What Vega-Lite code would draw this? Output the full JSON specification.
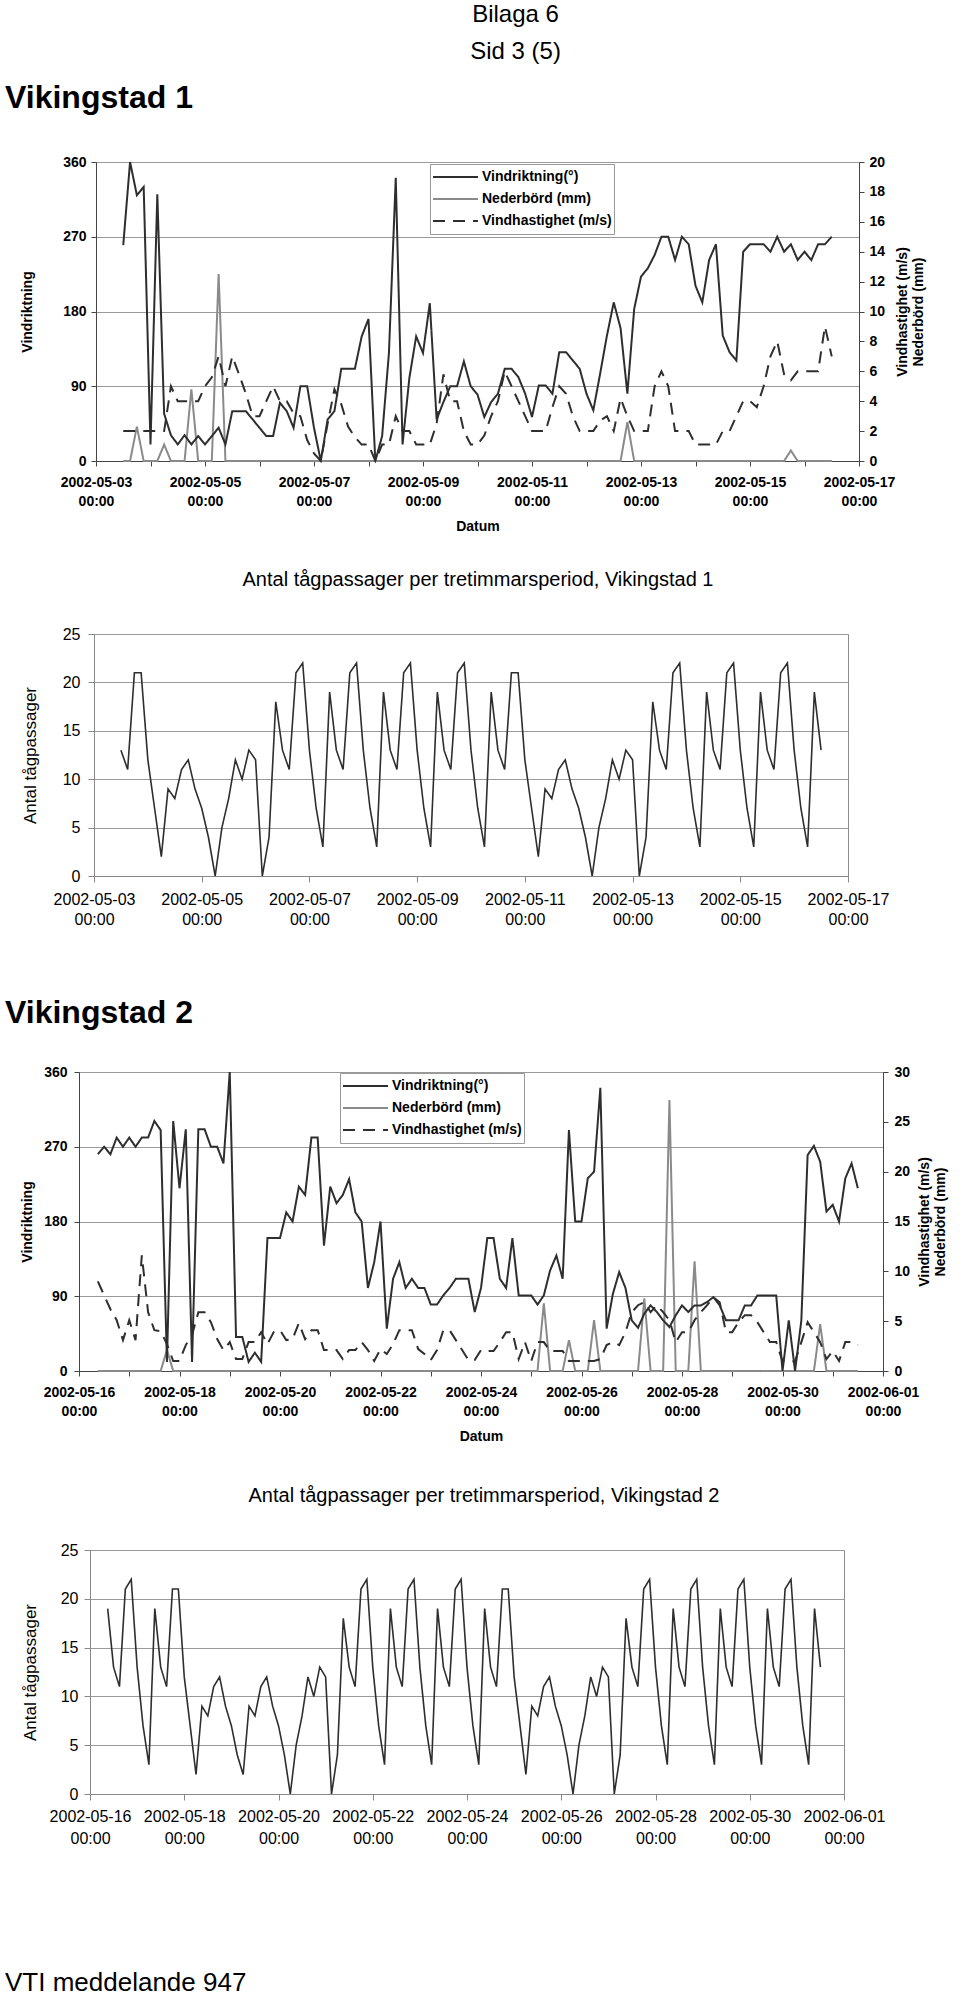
{
"$schema":"https://vega.github.io/schema/vega-lite/v6.json",
"padding":{"left":5,"top":2,"right":5,"bottom":2},
"title":{"text":"Bilaga 6","subtitle":"Sid 3 (5)","fontSize":24,"fontWeight":"normal","subtitleFontSize":24,"subtitleColor":"#000","subtitleFont":"Liberation Sans","subtitlePadding":13,"anchor":"middle","dx":39,"offset":18},
"datasets":{
"v1":[
{"t":"2002-05-03T12:00","dir":260,"rain":0,"speed":2,"train":13},
{"t":"2002-05-03T15:00","dir":360,"rain":0,"speed":2,"train":11},
{"t":"2002-05-03T18:00","dir":320,"rain":2.3,"speed":2,"train":21},
{"t":"2002-05-03T21:00","dir":330,"rain":0,"speed":2,"train":21},
{"t":"2002-05-04T00:00","dir":20,"rain":0,"speed":2,"train":12},
{"t":"2002-05-04T03:00","dir":321,"rain":0,"speed":2,"train":7},
{"t":"2002-05-04T06:00","dir":57,"rain":1.1,"speed":2,"train":2},
{"t":"2002-05-04T09:00","dir":31,"rain":0,"speed":5,"train":9},
{"t":"2002-05-04T12:00","dir":20,"rain":0,"speed":4,"train":8},
{"t":"2002-05-04T15:00","dir":31,"rain":0,"speed":4,"train":11},
{"t":"2002-05-04T18:00","dir":20,"rain":4.8,"speed":4,"train":12},
{"t":"2002-05-04T21:00","dir":30,"rain":0,"speed":4,"train":9},
{"t":"2002-05-05T00:00","dir":20,"rain":0,"speed":5,"train":7},
{"t":"2002-05-05T03:00","dir":30,"rain":0,"speed":5.6,"train":4},
{"t":"2002-05-05T06:00","dir":40,"rain":12.5,"speed":7,"train":0},
{"t":"2002-05-05T09:00","dir":20,"rain":0,"speed":5,"train":5},
{"t":"2002-05-05T12:00","dir":60,"rain":0,"speed":7,"train":8},
{"t":"2002-05-05T15:00","dir":60,"rain":0,"speed":5.8,"train":12},
{"t":"2002-05-05T18:00","dir":60,"rain":0,"speed":4.5,"train":10},
{"t":"2002-05-05T21:00","dir":50,"rain":0,"speed":3,"train":13},
{"t":"2002-05-06T00:00","dir":40,"rain":0,"speed":3,"train":12},
{"t":"2002-05-06T03:00","dir":30,"rain":0,"speed":4,"train":0},
{"t":"2002-05-06T06:00","dir":30,"rain":0,"speed":5,"train":4},
{"t":"2002-05-06T09:00","dir":70,"rain":0,"speed":4,"train":18},
{"t":"2002-05-06T12:00","dir":60,"rain":0,"speed":4,"train":13},
{"t":"2002-05-06T15:00","dir":40,"rain":0,"speed":3.2,"train":11},
{"t":"2002-05-06T18:00","dir":90,"rain":0,"speed":3,"train":21},
{"t":"2002-05-06T21:00","dir":90,"rain":0,"speed":1.4,"train":22},
{"t":"2002-05-07T00:00","dir":40,"rain":0,"speed":0.5,"train":13},
{"t":"2002-05-07T03:00","dir":0,"rain":0,"speed":0,"train":7},
{"t":"2002-05-07T06:00","dir":50,"rain":0,"speed":2.5,"train":3},
{"t":"2002-05-07T09:00","dir":60,"rain":0,"speed":4.8,"train":19},
{"t":"2002-05-07T12:00","dir":111,"rain":0,"speed":3.8,"train":13},
{"t":"2002-05-07T15:00","dir":111,"rain":0,"speed":2.3,"train":11},
{"t":"2002-05-07T18:00","dir":111,"rain":0,"speed":1.6,"train":21},
{"t":"2002-05-07T21:00","dir":150,"rain":0,"speed":1.1,"train":22},
{"t":"2002-05-08T00:00","dir":171,"rain":0,"speed":1.1,"train":13},
{"t":"2002-05-08T03:00","dir":0,"rain":0,"speed":0,"train":7},
{"t":"2002-05-08T06:00","dir":30,"rain":0,"speed":1.1,"train":3},
{"t":"2002-05-08T09:00","dir":130,"rain":0,"speed":1.1,"train":19},
{"t":"2002-05-08T12:00","dir":341,"rain":0,"speed":3,"train":13},
{"t":"2002-05-08T15:00","dir":20,"rain":0,"speed":2,"train":11},
{"t":"2002-05-08T18:00","dir":100,"rain":0,"speed":2,"train":21},
{"t":"2002-05-08T21:00","dir":150,"rain":0,"speed":1.1,"train":22},
{"t":"2002-05-09T00:00","dir":130,"rain":0,"speed":1.1,"train":13},
{"t":"2002-05-09T03:00","dir":190,"rain":0,"speed":1.1,"train":7},
{"t":"2002-05-09T06:00","dir":50,"rain":0,"speed":2.5,"train":3},
{"t":"2002-05-09T09:00","dir":71,"rain":0,"speed":5.8,"train":19},
{"t":"2002-05-09T12:00","dir":90,"rain":0,"speed":4,"train":13},
{"t":"2002-05-09T15:00","dir":90,"rain":0,"speed":4,"train":11},
{"t":"2002-05-09T18:00","dir":120,"rain":0,"speed":2,"train":21},
{"t":"2002-05-09T21:00","dir":90,"rain":0,"speed":1.1,"train":22},
{"t":"2002-05-10T00:00","dir":80,"rain":0,"speed":1.1,"train":13},
{"t":"2002-05-10T03:00","dir":53,"rain":0,"speed":1.7,"train":7},
{"t":"2002-05-10T06:00","dir":71,"rain":0,"speed":3,"train":3},
{"t":"2002-05-10T09:00","dir":81,"rain":0,"speed":4,"train":19},
{"t":"2002-05-10T12:00","dir":111,"rain":0,"speed":6,"train":13},
{"t":"2002-05-10T15:00","dir":111,"rain":0,"speed":5,"train":11},
{"t":"2002-05-10T18:00","dir":101,"rain":0,"speed":4,"train":21},
{"t":"2002-05-10T21:00","dir":81,"rain":0,"speed":3,"train":21},
{"t":"2002-05-11T00:00","dir":53,"rain":0,"speed":2,"train":12},
{"t":"2002-05-11T03:00","dir":91,"rain":0,"speed":2,"train":7},
{"t":"2002-05-11T06:00","dir":91,"rain":0,"speed":2,"train":2},
{"t":"2002-05-11T09:00","dir":81,"rain":0,"speed":3.6,"train":9},
{"t":"2002-05-11T12:00","dir":131,"rain":0,"speed":5,"train":8},
{"t":"2002-05-11T15:00","dir":131,"rain":0,"speed":4.5,"train":11},
{"t":"2002-05-11T18:00","dir":121,"rain":0,"speed":3,"train":12},
{"t":"2002-05-11T21:00","dir":111,"rain":0,"speed":2,"train":9},
{"t":"2002-05-12T00:00","dir":81,"rain":0,"speed":2,"train":7},
{"t":"2002-05-12T03:00","dir":61,"rain":0,"speed":2,"train":4},
{"t":"2002-05-12T06:00","dir":105,"rain":0,"speed":2.7,"train":0},
{"t":"2002-05-12T09:00","dir":151,"rain":0,"speed":3,"train":5},
{"t":"2002-05-12T12:00","dir":191,"rain":0,"speed":2,"train":8},
{"t":"2002-05-12T15:00","dir":160,"rain":0,"speed":4.2,"train":12},
{"t":"2002-05-12T18:00","dir":81,"rain":2.6,"speed":3,"train":10},
{"t":"2002-05-12T21:00","dir":183,"rain":0,"speed":2,"train":13},
{"t":"2002-05-13T00:00","dir":222,"rain":0,"speed":2,"train":12},
{"t":"2002-05-13T03:00","dir":232,"rain":0,"speed":2,"train":0},
{"t":"2002-05-13T06:00","dir":248,"rain":0,"speed":5,"train":4},
{"t":"2002-05-13T09:00","dir":270,"rain":0,"speed":6,"train":18},
{"t":"2002-05-13T12:00","dir":270,"rain":0,"speed":5,"train":13},
{"t":"2002-05-13T15:00","dir":242,"rain":0,"speed":2,"train":11},
{"t":"2002-05-13T18:00","dir":270,"rain":0,"speed":2,"train":21},
{"t":"2002-05-13T21:00","dir":261,"rain":0,"speed":2,"train":22},
{"t":"2002-05-14T00:00","dir":211,"rain":0,"speed":1.1,"train":13},
{"t":"2002-05-14T03:00","dir":191,"rain":0,"speed":1.1,"train":7},
{"t":"2002-05-14T06:00","dir":242,"rain":0,"speed":1.1,"train":3},
{"t":"2002-05-14T09:00","dir":261,"rain":0,"speed":1.1,"train":19},
{"t":"2002-05-14T12:00","dir":151,"rain":0,"speed":2,"train":13},
{"t":"2002-05-14T15:00","dir":131,"rain":0,"speed":2,"train":11},
{"t":"2002-05-14T18:00","dir":121,"rain":0,"speed":3,"train":21},
{"t":"2002-05-14T21:00","dir":252,"rain":0,"speed":4,"train":22},
{"t":"2002-05-15T00:00","dir":261,"rain":0,"speed":4,"train":13},
{"t":"2002-05-15T03:00","dir":261,"rain":0,"speed":3.6,"train":7},
{"t":"2002-05-15T06:00","dir":261,"rain":0,"speed":5,"train":3},
{"t":"2002-05-15T09:00","dir":252,"rain":0,"speed":7,"train":19},
{"t":"2002-05-15T12:00","dir":270,"rain":0,"speed":8,"train":13},
{"t":"2002-05-15T15:00","dir":252,"rain":0,"speed":5.8,"train":11},
{"t":"2002-05-15T18:00","dir":261,"rain":0.7,"speed":5.4,"train":21},
{"t":"2002-05-15T21:00","dir":242,"rain":0,"speed":6,"train":22},
{"t":"2002-05-16T00:00","dir":252,"rain":0,"speed":6,"train":13},
{"t":"2002-05-16T03:00","dir":242,"rain":0,"speed":6,"train":7},
{"t":"2002-05-16T06:00","dir":261,"rain":0,"speed":6,"train":3},
{"t":"2002-05-16T09:00","dir":261,"rain":0,"speed":9,"train":19},
{"t":"2002-05-16T12:00","dir":270,"rain":0,"speed":7,"train":13}
],
"v2":[
{"t":"2002-05-16T09:00","dir":261,"rain":0,"speed":9.0,"train":19},
{"t":"2002-05-16T12:00","dir":270,"rain":0,"speed":7.6,"train":13},
{"t":"2002-05-16T15:00","dir":261,"rain":0,"speed":6.2,"train":11},
{"t":"2002-05-16T18:00","dir":281,"rain":0,"speed":5.1,"train":21},
{"t":"2002-05-16T21:00","dir":270,"rain":0,"speed":3.1,"train":22},
{"t":"2002-05-17T00:00","dir":281,"rain":0,"speed":5.1,"train":13},
{"t":"2002-05-17T03:00","dir":270,"rain":0,"speed":3.1,"train":7},
{"t":"2002-05-17T06:00","dir":281,"rain":0,"speed":11.6,"train":3},
{"t":"2002-05-17T09:00","dir":281,"rain":0,"speed":5.9,"train":19},
{"t":"2002-05-17T12:00","dir":301,"rain":0,"speed":4.1,"train":13},
{"t":"2002-05-17T15:00","dir":290,"rain":0,"speed":4.0,"train":11},
{"t":"2002-05-17T18:00","dir":11,"rain":2.1,"speed":2.7,"train":21},
{"t":"2002-05-17T21:00","dir":301,"rain":0,"speed":1.0,"train":21},
{"t":"2002-05-18T00:00","dir":220,"rain":0,"speed":1.0,"train":12},
{"t":"2002-05-18T03:00","dir":291,"rain":0,"speed":2.6,"train":7},
{"t":"2002-05-18T06:00","dir":11,"rain":0,"speed":3.6,"train":2},
{"t":"2002-05-18T09:00","dir":291,"rain":0,"speed":5.9,"train":9},
{"t":"2002-05-18T12:00","dir":291,"rain":0,"speed":5.9,"train":8},
{"t":"2002-05-18T15:00","dir":270,"rain":0,"speed":4.9,"train":11},
{"t":"2002-05-18T18:00","dir":270,"rain":0,"speed":3.2,"train":12},
{"t":"2002-05-18T21:00","dir":250,"rain":0,"speed":2.1,"train":9},
{"t":"2002-05-19T00:00","dir":360,"rain":0,"speed":2.9,"train":7},
{"t":"2002-05-19T03:00","dir":41,"rain":0,"speed":1.2,"train":4},
{"t":"2002-05-19T06:00","dir":41,"rain":0,"speed":1.2,"train":2},
{"t":"2002-05-19T09:00","dir":11,"rain":0,"speed":2.9,"train":9},
{"t":"2002-05-19T12:00","dir":22,"rain":0,"speed":2.9,"train":8},
{"t":"2002-05-19T15:00","dir":11,"rain":0,"speed":3.9,"train":11},
{"t":"2002-05-19T18:00","dir":160,"rain":0,"speed":2.7,"train":12},
{"t":"2002-05-19T21:00","dir":160,"rain":0,"speed":3.9,"train":9},
{"t":"2002-05-20T00:00","dir":160,"rain":0,"speed":4.1,"train":7},
{"t":"2002-05-20T03:00","dir":191,"rain":0,"speed":3.1,"train":4},
{"t":"2002-05-20T06:00","dir":180,"rain":0,"speed":3.2,"train":0},
{"t":"2002-05-20T09:00","dir":222,"rain":0,"speed":4.8,"train":5},
{"t":"2002-05-20T12:00","dir":212,"rain":0,"speed":3.2,"train":8},
{"t":"2002-05-20T15:00","dir":281,"rain":0,"speed":4.1,"train":12},
{"t":"2002-05-20T18:00","dir":281,"rain":0,"speed":4.1,"train":10},
{"t":"2002-05-20T21:00","dir":151,"rain":0,"speed":2.1,"train":13},
{"t":"2002-05-21T00:00","dir":222,"rain":0,"speed":2.1,"train":12},
{"t":"2002-05-21T03:00","dir":202,"rain":0,"speed":2.1,"train":0},
{"t":"2002-05-21T06:00","dir":212,"rain":0,"speed":1.2,"train":4},
{"t":"2002-05-21T09:00","dir":231,"rain":0,"speed":2.1,"train":18},
{"t":"2002-05-21T12:00","dir":191,"rain":0,"speed":2.1,"train":13},
{"t":"2002-05-21T15:00","dir":180,"rain":0,"speed":2.9,"train":11},
{"t":"2002-05-21T18:00","dir":100,"rain":0,"speed":2.1,"train":21},
{"t":"2002-05-21T21:00","dir":131,"rain":0,"speed":1.0,"train":22},
{"t":"2002-05-22T00:00","dir":180,"rain":0,"speed":2.2,"train":13},
{"t":"2002-05-22T03:00","dir":51,"rain":0,"speed":1.7,"train":7},
{"t":"2002-05-22T06:00","dir":111,"rain":0,"speed":2.7,"train":3},
{"t":"2002-05-22T09:00","dir":131,"rain":0,"speed":4.1,"train":19},
{"t":"2002-05-22T12:00","dir":100,"rain":0,"speed":4.1,"train":13},
{"t":"2002-05-22T15:00","dir":111,"rain":0,"speed":4.1,"train":11},
{"t":"2002-05-22T18:00","dir":100,"rain":0,"speed":2.2,"train":21},
{"t":"2002-05-22T21:00","dir":100,"rain":0,"speed":1.7,"train":22},
{"t":"2002-05-23T00:00","dir":80,"rain":0,"speed":1.1,"train":13},
{"t":"2002-05-23T03:00","dir":80,"rain":0,"speed":2.1,"train":7},
{"t":"2002-05-23T06:00","dir":91,"rain":0,"speed":4.1,"train":3},
{"t":"2002-05-23T09:00","dir":100,"rain":0,"speed":4.1,"train":19},
{"t":"2002-05-23T12:00","dir":111,"rain":0,"speed":3.1,"train":13},
{"t":"2002-05-23T15:00","dir":111,"rain":0,"speed":2.1,"train":11},
{"t":"2002-05-23T18:00","dir":111,"rain":0,"speed":1.1,"train":21},
{"t":"2002-05-23T21:00","dir":71,"rain":0,"speed":1.1,"train":22},
{"t":"2002-05-24T00:00","dir":100,"rain":0,"speed":2.1,"train":13},
{"t":"2002-05-24T03:00","dir":160,"rain":0,"speed":2.0,"train":7},
{"t":"2002-05-24T06:00","dir":160,"rain":0,"speed":2.0,"train":3},
{"t":"2002-05-24T09:00","dir":111,"rain":0,"speed":2.9,"train":19},
{"t":"2002-05-24T12:00","dir":100,"rain":0,"speed":3.9,"train":13},
{"t":"2002-05-24T15:00","dir":160,"rain":0,"speed":3.9,"train":11},
{"t":"2002-05-24T18:00","dir":91,"rain":0,"speed":1.2,"train":21},
{"t":"2002-05-24T21:00","dir":91,"rain":0,"speed":2.9,"train":21},
{"t":"2002-05-25T00:00","dir":91,"rain":0,"speed":1.0,"train":12},
{"t":"2002-05-25T03:00","dir":80,"rain":0,"speed":2.9,"train":7},
{"t":"2002-05-25T06:00","dir":91,"rain":6.8,"speed":2.9,"train":2},
{"t":"2002-05-25T09:00","dir":121,"rain":0,"speed":2.0,"train":9},
{"t":"2002-05-25T12:00","dir":139,"rain":0,"speed":2.0,"train":8},
{"t":"2002-05-25T15:00","dir":111,"rain":0,"speed":2.0,"train":11},
{"t":"2002-05-25T18:00","dir":290,"rain":3.1,"speed":1.0,"train":12},
{"t":"2002-05-25T21:00","dir":180,"rain":0,"speed":1.0,"train":9},
{"t":"2002-05-26T00:00","dir":180,"rain":0,"speed":1.0,"train":7},
{"t":"2002-05-26T03:00","dir":232,"rain":0,"speed":1.0,"train":4},
{"t":"2002-05-26T06:00","dir":240,"rain":5.1,"speed":1.0,"train":0},
{"t":"2002-05-26T09:00","dir":341,"rain":0,"speed":1.2,"train":5},
{"t":"2002-05-26T12:00","dir":51,"rain":0,"speed":2.6,"train":8},
{"t":"2002-05-26T15:00","dir":93,"rain":0,"speed":2.9,"train":12},
{"t":"2002-05-26T18:00","dir":119,"rain":0,"speed":2.6,"train":10},
{"t":"2002-05-26T21:00","dir":100,"rain":0,"speed":3.9,"train":13},
{"t":"2002-05-27T00:00","dir":61,"rain":0,"speed":5.9,"train":12},
{"t":"2002-05-27T03:00","dir":52,"rain":0,"speed":6.6,"train":0},
{"t":"2002-05-27T06:00","dir":69,"rain":7.3,"speed":6.9,"train":4},
{"t":"2002-05-27T09:00","dir":79,"rain":0,"speed":5.9,"train":18},
{"t":"2002-05-27T12:00","dir":71,"rain":0,"speed":6.6,"train":13},
{"t":"2002-05-27T15:00","dir":61,"rain":0,"speed":5.9,"train":11},
{"t":"2002-05-27T18:00","dir":53,"rain":27.2,"speed":5.1,"train":21},
{"t":"2002-05-27T21:00","dir":67,"rain":0,"speed":2.9,"train":22},
{"t":"2002-05-28T00:00","dir":79,"rain":0,"speed":3.9,"train":13},
{"t":"2002-05-28T03:00","dir":71,"rain":0,"speed":3.9,"train":7},
{"t":"2002-05-28T06:00","dir":79,"rain":11,"speed":5.1,"train":3},
{"t":"2002-05-28T09:00","dir":79,"rain":0,"speed":5.9,"train":19},
{"t":"2002-05-28T12:00","dir":83,"rain":0,"speed":6.6,"train":13},
{"t":"2002-05-28T15:00","dir":89,"rain":0,"speed":7.4,"train":11},
{"t":"2002-05-28T18:00","dir":79,"rain":0,"speed":6.9,"train":21},
{"t":"2002-05-28T21:00","dir":61,"rain":0,"speed":3.9,"train":22},
{"t":"2002-05-29T00:00","dir":61,"rain":0,"speed":3.9,"train":13},
{"t":"2002-05-29T03:00","dir":61,"rain":0,"speed":4.9,"train":7},
{"t":"2002-05-29T06:00","dir":79,"rain":0,"speed":5.6,"train":3},
{"t":"2002-05-29T09:00","dir":79,"rain":0,"speed":5.6,"train":19},
{"t":"2002-05-29T12:00","dir":91,"rain":0,"speed":4.9,"train":13},
{"t":"2002-05-29T15:00","dir":91,"rain":0,"speed":3.9,"train":11},
{"t":"2002-05-29T18:00","dir":91,"rain":0,"speed":2.9,"train":21},
{"t":"2002-05-29T21:00","dir":91,"rain":0,"speed":2.9,"train":22},
{"t":"2002-05-30T00:00","dir":0,"rain":0,"speed":1.0,"train":13},
{"t":"2002-05-30T03:00","dir":61,"rain":0,"speed":0.9,"train":7},
{"t":"2002-05-30T06:00","dir":0,"rain":0,"speed":1.0,"train":3},
{"t":"2002-05-30T09:00","dir":61,"rain":0,"speed":2.9,"train":19},
{"t":"2002-05-30T12:00","dir":260,"rain":0,"speed":4.9,"train":13},
{"t":"2002-05-30T15:00","dir":271,"rain":0,"speed":3.9,"train":11},
{"t":"2002-05-30T18:00","dir":252,"rain":4.7,"speed":2.9,"train":21},
{"t":"2002-05-30T21:00","dir":192,"rain":0,"speed":1.2,"train":22},
{"t":"2002-05-31T00:00","dir":200,"rain":0,"speed":2.0,"train":13},
{"t":"2002-05-31T03:00","dir":180,"rain":0,"speed":1.0,"train":7},
{"t":"2002-05-31T06:00","dir":232,"rain":0,"speed":2.9,"train":3},
{"t":"2002-05-31T09:00","dir":250,"rain":0,"speed":2.9,"train":19},
{"t":"2002-05-31T12:00","dir":220,"rain":0,"speed":2.6,"train":13}
]
},
"spacing":35,
"resolve":{"scale":{"color":"independent","strokeDash":"independent"},"legend":{"color":"independent","strokeDash":"independent"}},
"vconcat":[
{
"title":{"text":"Vikingstad 1","fontSize":32,"fontWeight":"bold","anchor":"start","dx":-14,"offset":40},
"spacing":0,
"hconcat":[
{"width":1,"height":1,"view":{"stroke":null},"data":{"values":[{"a":0}]},"mark":{"type":"point","opacity":0,"size":1}},
{
"width":763,"height":299,
"data":{"name":"v1"},
"encoding":{
"x":{"field":"t","type":"temporal","title":"Datum",
"scale":{"domain":[{"year":2002,"month":5,"date":3},{"year":2002,"month":5,"date":17}],"nice":false},
"axis":{"values":[{"year":2002,"month":5,"date":3},{"year":2002,"month":5,"date":4},{"year":2002,"month":5,"date":5},{"year":2002,"month":5,"date":6},{"year":2002,"month":5,"date":7},{"year":2002,"month":5,"date":8},{"year":2002,"month":5,"date":9},{"year":2002,"month":5,"date":10},{"year":2002,"month":5,"date":11},{"year":2002,"month":5,"date":12},{"year":2002,"month":5,"date":13},{"year":2002,"month":5,"date":14},{"year":2002,"month":5,"date":15},{"year":2002,"month":5,"date":16},{"year":2002,"month":5,"date":17}],
"labelExpr":"round((datum.value - datetime(2002,4,3))/86400000) % 2 == 0 ? [timeFormat(datum.value, '%Y-%m-%d'), timeFormat(datum.value, '%H:%M')] : ''",
"labelFontSize":14,"labelFontWeight":"bold","labelLineHeight":19,"labelPadding":9,"tickSize":5,"labelFlush":false,"labelOverlap":false,"grid":false,"titleFontSize":14,"titleFontWeight":"bold","titlePadding":11}}
},
"layer":[
{"transform":[{"fold":["rain","speed"],"as":["series","value"]}],
"mark":{"type":"line","strokeWidth":2},
"encoding":{
"y":{"field":"value","type":"quantitative","scale":{"domain":[0,20],"nice":false},"axis":{"orient":"right","title":["Vindhastighet (m/s)","Nederbörd (mm)"],"values":[0,2,4,6,8,10,12,14,16,18,20],"grid":false,"labelFontSize":14,"labelFontWeight":"bold","titleFontSize":14,"titleFontWeight":"bold","titleAngle":270,"titleBaseline":"top","titleLineHeight":16,"titlePadding":-5,"minExtent":0,"tickSize":5,"labelPadding":5}},
"color":{"field":"series","type":"nominal","scale":{"domain":["dir","rain","speed"],"range":["#2e2e2e","#8a8a8a","#2e2e2e"]},
"legend":{"title":null,"orient":"none","legendX":411,"legendY":2,"symbolType":"stroke","symbolSize":2025,"clipHeight":22,"symbolStrokeWidth":2,"labelFontSize":14,"labelFontWeight":"bold","labelColor":"#000","padding":2,"rowPadding":0,"strokeColor":"#999","fillColor":"#fff","labelOffset":3,"labelExpr":"datum.value == 'dir' ? 'Vindriktning(°)' : datum.value == 'rain' ? 'Nederbörd (mm)' : 'Vindhastighet (m/s)'"}},
"strokeDash":{"field":"series","type":"nominal","scale":{"domain":["dir","rain","speed"],"range":[[1,0],[1,0],[12,8]]},
"legend":{"title":null,"orient":"none","legendX":411,"legendY":2,"symbolType":"stroke","symbolSize":2025,"clipHeight":22,"symbolStrokeWidth":2,"labelFontSize":14,"labelFontWeight":"bold","labelColor":"#000","padding":2,"rowPadding":0,"strokeColor":"#999","fillColor":"#fff","labelOffset":3,"labelExpr":"datum.value == 'dir' ? 'Vindriktning(°)' : datum.value == 'rain' ? 'Nederbörd (mm)' : 'Vindhastighet (m/s)'"}}
}},
{"transform":[{"fold":["dir"],"as":["series","value"]}],
"mark":{"type":"line","strokeWidth":2},
"encoding":{
"y":{"field":"value","type":"quantitative","scale":{"domain":[0,360],"nice":false},"axis":{"orient":"left","title":"Vindriktning","values":[0,90,180,270,360],"grid":true,"labelFontSize":14,"labelFontWeight":"bold","titleFontSize":14,"titleFontWeight":"bold","titlePadding":28,"tickSize":5,"labelPadding":5}},
"color":{"field":"series","type":"nominal","scale":{"domain":["dir","rain","speed"],"range":["#2e2e2e","#8a8a8a","#2e2e2e"]},
"legend":{"title":null,"orient":"none","legendX":411,"legendY":2,"symbolType":"stroke","symbolSize":2025,"clipHeight":22,"symbolStrokeWidth":2,"labelFontSize":14,"labelFontWeight":"bold","labelColor":"#000","padding":2,"rowPadding":0,"strokeColor":"#999","fillColor":"#fff","labelOffset":3,"labelExpr":"datum.value == 'dir' ? 'Vindriktning(°)' : datum.value == 'rain' ? 'Nederbörd (mm)' : 'Vindhastighet (m/s)'"}},
"strokeDash":{"field":"series","type":"nominal","scale":{"domain":["dir","rain","speed"],"range":[[1,0],[1,0],[12,8]]},
"legend":{"title":null,"orient":"none","legendX":411,"legendY":2,"symbolType":"stroke","symbolSize":2025,"clipHeight":22,"symbolStrokeWidth":2,"labelFontSize":14,"labelFontWeight":"bold","labelColor":"#000","padding":2,"rowPadding":0,"strokeColor":"#999","fillColor":"#fff","labelOffset":3,"labelExpr":"datum.value == 'dir' ? 'Vindriktning(°)' : datum.value == 'rain' ? 'Nederbörd (mm)' : 'Vindhastighet (m/s)'"}}
}}
],
"resolve":{"scale":{"y":"independent"}}
}
]
},
{
"title":{"text":"Vikingstad 2","orient":"bottom","fontSize":32,"fontWeight":"bold","anchor":"start","dx":-14,"offset":70},
"spacing":0,
"hconcat":[
{"width":1,"height":1,"view":{"stroke":null},"data":{"values":[{"a":0}]},"mark":{"type":"point","opacity":0,"size":1}},
{
"title":{"text":"Antal tågpassager per tretimmarsperiod, Vikingstad 1","fontSize":20,"fontWeight":"normal","anchor":"middle","frame":"group","offset":36,"dx":7},
"width":754,"height":242,
"data":{"name":"v1"},
"mark":{"type":"line","color":"#2e2e2e","strokeWidth":1.6},
"encoding":{
"x":{"field":"t","type":"temporal","title":null,
"scale":{"domain":[{"year":2002,"month":5,"date":3},{"year":2002,"month":5,"date":17}],"nice":false},
"axis":{"values":[{"year":2002,"month":5,"date":3},{"year":2002,"month":5,"date":5},{"year":2002,"month":5,"date":7},{"year":2002,"month":5,"date":9},{"year":2002,"month":5,"date":11},{"year":2002,"month":5,"date":13},{"year":2002,"month":5,"date":15},{"year":2002,"month":5,"date":17}],
"labelExpr":"[timeFormat(datum.value, '%Y-%m-%d'), timeFormat(datum.value, '%H:%M')]",
"labelFontSize":16,"labelLineHeight":20,"labelPadding":9,"tickSize":6,"labelFlush":false,"labelOverlap":false,"grid":false,"domainColor":"#888","tickColor":"#888"}},
"y":{"field":"train","type":"quantitative","scale":{"domain":[0,25],"nice":false},
"axis":{"title":"Antal tågpassager","values":[0,5,10,15,20,25],"labelFontSize":16,"titleFontSize":17,"titleFontWeight":"normal","titlePadding":23,"tickSize":6,"labelPadding":8,"grid":true,"domainColor":"#888","tickColor":"#888"}}
}
}
]
},
{
"spacing":41,
"resolve":{"scale":{"color":"independent","strokeDash":"independent"},"legend":{"color":"independent","strokeDash":"independent"}},
"vconcat":[
{
"spacing":0,
"hconcat":[
{"width":1,"height":1,"view":{"stroke":null},"data":{"values":[{"a":0}]},"mark":{"type":"point","opacity":0,"size":1}},
{
"width":804,"height":299,
"data":{"name":"v2"},
"encoding":{
"x":{"field":"t","type":"temporal","title":"Datum",
"scale":{"domain":[{"year":2002,"month":5,"date":16},{"year":2002,"month":6,"date":1}],"nice":false},
"axis":{"values":[{"year":2002,"month":5,"date":16},{"year":2002,"month":5,"date":17},{"year":2002,"month":5,"date":18},{"year":2002,"month":5,"date":19},{"year":2002,"month":5,"date":20},{"year":2002,"month":5,"date":21},{"year":2002,"month":5,"date":22},{"year":2002,"month":5,"date":23},{"year":2002,"month":5,"date":24},{"year":2002,"month":5,"date":25},{"year":2002,"month":5,"date":26},{"year":2002,"month":5,"date":27},{"year":2002,"month":5,"date":28},{"year":2002,"month":5,"date":29},{"year":2002,"month":5,"date":30},{"year":2002,"month":5,"date":31},{"year":2002,"month":6,"date":1}],
"labelExpr":"round((datum.value - datetime(2002,4,16))/86400000) % 2 == 0 ? [timeFormat(datum.value, '%Y-%m-%d'), timeFormat(datum.value, '%H:%M')] : ''",
"labelFontSize":14,"labelFontWeight":"bold","labelLineHeight":19,"labelPadding":9,"tickSize":5,"labelFlush":false,"labelOverlap":false,"grid":false,"titleFontSize":14,"titleFontWeight":"bold","titlePadding":11}}
},
"layer":[
{"transform":[{"fold":["rain","speed"],"as":["series","value"]}],
"mark":{"type":"line","strokeWidth":2},
"encoding":{
"y":{"field":"value","type":"quantitative","scale":{"domain":[0,30],"nice":false},"axis":{"orient":"right","title":["Vindhastighet (m/s)","Nederbörd (mm)"],"values":[0,5,10,15,20,25,30],"grid":false,"labelFontSize":14,"labelFontWeight":"bold","titleFontSize":14,"titleFontWeight":"bold","titleAngle":270,"titleBaseline":"top","titleLineHeight":16,"titlePadding":-8,"minExtent":0,"tickSize":5,"labelPadding":6}},
"color":{"field":"series","type":"nominal","scale":{"domain":["dir","rain","speed"],"range":["#2e2e2e","#8a8a8a","#2e2e2e"]},
"legend":{"title":null,"orient":"none","legendX":321,"legendY":1,"symbolType":"stroke","symbolSize":2025,"clipHeight":22,"symbolStrokeWidth":2,"labelFontSize":14,"labelFontWeight":"bold","labelColor":"#000","padding":2,"rowPadding":0,"strokeColor":"#999","fillColor":"#fff","labelOffset":3,"labelExpr":"datum.value == 'dir' ? 'Vindriktning(°)' : datum.value == 'rain' ? 'Nederbörd (mm)' : 'Vindhastighet (m/s)'"}},
"strokeDash":{"field":"series","type":"nominal","scale":{"domain":["dir","rain","speed"],"range":[[1,0],[1,0],[12,8]]},
"legend":{"title":null,"orient":"none","legendX":321,"legendY":1,"symbolType":"stroke","symbolSize":2025,"clipHeight":22,"symbolStrokeWidth":2,"labelFontSize":14,"labelFontWeight":"bold","labelColor":"#000","padding":2,"rowPadding":0,"strokeColor":"#999","fillColor":"#fff","labelOffset":3,"labelExpr":"datum.value == 'dir' ? 'Vindriktning(°)' : datum.value == 'rain' ? 'Nederbörd (mm)' : 'Vindhastighet (m/s)'"}}
}},
{"transform":[{"fold":["dir"],"as":["series","value"]}],
"mark":{"type":"line","strokeWidth":2},
"encoding":{
"y":{"field":"value","type":"quantitative","scale":{"domain":[0,360],"nice":false},"axis":{"orient":"left","title":"Vindriktning","values":[0,90,180,270,360],"grid":true,"labelFontSize":14,"labelFontWeight":"bold","titleFontSize":14,"titleFontWeight":"bold","titlePadding":9,"tickSize":5,"labelPadding":7}},
"color":{"field":"series","type":"nominal","scale":{"domain":["dir","rain","speed"],"range":["#2e2e2e","#8a8a8a","#2e2e2e"]},
"legend":{"title":null,"orient":"none","legendX":321,"legendY":1,"symbolType":"stroke","symbolSize":2025,"clipHeight":22,"symbolStrokeWidth":2,"labelFontSize":14,"labelFontWeight":"bold","labelColor":"#000","padding":2,"rowPadding":0,"strokeColor":"#999","fillColor":"#fff","labelOffset":3,"labelExpr":"datum.value == 'dir' ? 'Vindriktning(°)' : datum.value == 'rain' ? 'Nederbörd (mm)' : 'Vindhastighet (m/s)'"}},
"strokeDash":{"field":"series","type":"nominal","scale":{"domain":["dir","rain","speed"],"range":[[1,0],[1,0],[12,8]]},
"legend":{"title":null,"orient":"none","legendX":321,"legendY":1,"symbolType":"stroke","symbolSize":2025,"clipHeight":22,"symbolStrokeWidth":2,"labelFontSize":14,"labelFontWeight":"bold","labelColor":"#000","padding":2,"rowPadding":0,"strokeColor":"#999","fillColor":"#fff","labelOffset":3,"labelExpr":"datum.value == 'dir' ? 'Vindriktning(°)' : datum.value == 'rain' ? 'Nederbörd (mm)' : 'Vindhastighet (m/s)'"}}
}}
],
"resolve":{"scale":{"y":"independent"}}
}
]
},
{
"title":{"text":"VTI meddelande 947","orient":"bottom","anchor":"start","fontSize":26,"fontWeight":"normal","dx":-14,"offset":123},
"spacing":0,
"hconcat":[
{"width":1,"height":1,"view":{"stroke":null},"data":{"values":[{"a":0}]},"mark":{"type":"point","opacity":0,"size":1}},
{
"title":{"text":"Antal tågpassager per tretimmarsperiod, Vikingstad 2","fontSize":20,"fontWeight":"normal","anchor":"middle","frame":"group","offset":36,"dx":17},
"width":754,"height":244,
"data":{"name":"v2"},
"mark":{"type":"line","color":"#2e2e2e","strokeWidth":1.6},
"encoding":{
"x":{"field":"t","type":"temporal","title":null,
"scale":{"domain":[{"year":2002,"month":5,"date":16},{"year":2002,"month":6,"date":1}],"nice":false},
"axis":{"values":[{"year":2002,"month":5,"date":16},{"year":2002,"month":5,"date":18},{"year":2002,"month":5,"date":20},{"year":2002,"month":5,"date":22},{"year":2002,"month":5,"date":24},{"year":2002,"month":5,"date":26},{"year":2002,"month":5,"date":28},{"year":2002,"month":5,"date":30},{"year":2002,"month":6,"date":1}],
"labelExpr":"[timeFormat(datum.value, '%Y-%m-%d'), timeFormat(datum.value, '%H:%M')]",
"labelFontSize":16,"labelLineHeight":22,"labelPadding":8,"tickSize":6,"labelFlush":false,"labelOverlap":false,"grid":false,"domainColor":"#888","tickColor":"#888"}},
"y":{"field":"train","type":"quantitative","scale":{"domain":[0,25],"nice":false},
"axis":{"title":"Antal tågpassager","values":[0,5,10,15,20,25],"labelFontSize":16,"titleFontSize":17,"titleFontWeight":"normal","titlePadding":21,"tickSize":6,"labelPadding":6,"grid":true,"domainColor":"#888","tickColor":"#888"}}
}
}
]
}
]
}
],
"config":{
"font":"Liberation Sans",
"view":{"stroke":"#8c8c8c","strokeWidth":1},
"axis":{"labelColor":"#000","titleColor":"#000","domainColor":"#444","tickColor":"#444","gridColor":"#9a9a9a","labelFont":"Liberation Sans","titleFont":"Liberation Sans"},
"title":{"font":"Liberation Sans","color":"#000"}
}
}
